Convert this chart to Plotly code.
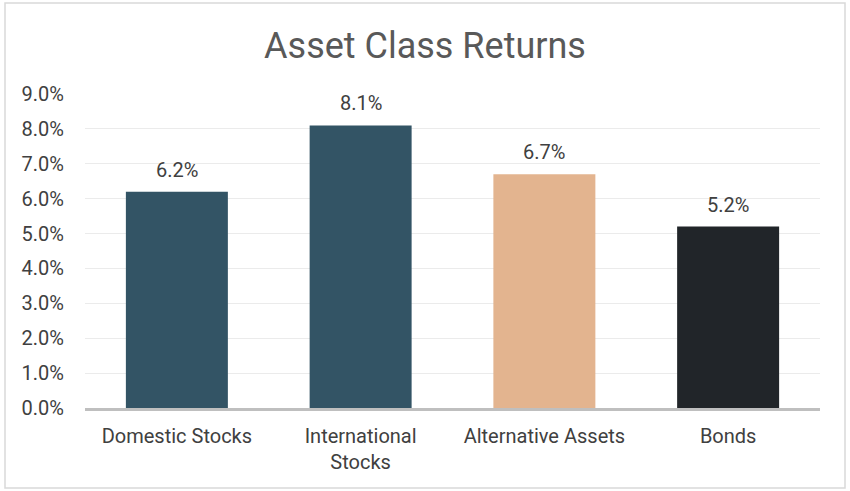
import plotly.graph_objects as go

# Chart data
categories = ["Domestic Stocks", "International<br>Stocks", "Alternative Assets", "Bonds"]
returns = [6.2, 8.1, 6.7, 5.2]
bar_colors = ["#335465", "#335465", "#E3B48F", "#212529"]
tick_vals = [0, 1, 2, 3, 4, 5, 6, 7, 8, 9]
tick_text = [f"{v:.1f}%" for v in tick_vals]

fig = go.Figure(go.Bar(
    x=categories,
    y=returns,
    marker=dict(color=bar_colors, line=dict(width=0)),
    width=0.555,
    hoverinfo="x+y",
))

# value labels above the bars, a bit further out than textposition allows
for cat, val in zip(categories, returns):
    fig.add_annotation(x=cat, y=val, text=f"{val:.1f}%", showarrow=False,
                       yanchor="middle", yshift=22,
                       font=dict(size=20, color="#404040"))

fig.update_layout(
    width=850,
    height=491,
    paper_bgcolor="white",
    plot_bgcolor="white",
    font=dict(family="Roboto", color="#404040"),
    title=dict(text="Asset Class Returns", x=0.5, xanchor="center", y=0.908, yanchor="middle",
               font=dict(size=36, color="#595959")),
    margin=dict(l=85, r=30, t=94, b=83),
    showlegend=False,
)
fig.update_yaxes(
    range=[0, 9],
    tickvals=tick_vals,
    ticktext=tick_text,
    tickfont=dict(size=20, color="#404040"),
    showgrid=True,
    gridcolor="#ebebeb",
    gridwidth=1,
    zeroline=False,
    showline=False,
    ticklabelstandoff=20,
)
fig.update_xaxes(
    showline=True,
    linecolor="#bfbfbf",
    linewidth=3,
    tickfont=dict(size=20, color="#404040"),
    ticklabelstandoff=8,
)

# light frame round the whole chart
fig.add_shape(type="rect", xref="paper", yref="paper",
              x0=(5 - 85) / 735, x1=(845 - 85) / 735,
              y0=(408 - 488) / 314, y1=(408 - 3) / 314,
              line=dict(color="#d9d9d9", width=1.5))

fig.write_html("out.html", config={"displayModeBar": False},
               post_script="document.body.style.margin='0px';")
